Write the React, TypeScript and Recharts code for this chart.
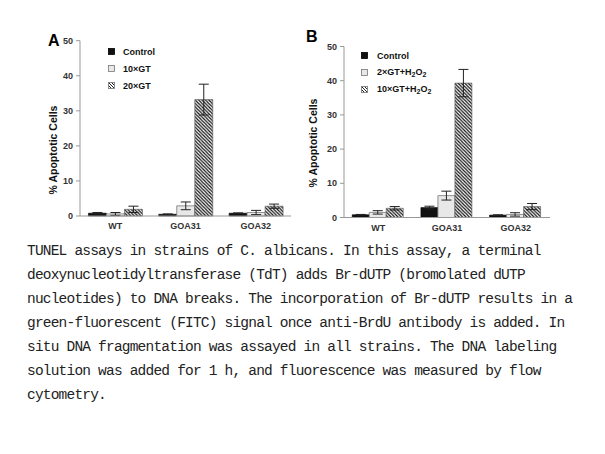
import React from 'react';
import { BarChart, Bar, XAxis, YAxis, ErrorBar, Legend } from 'recharts';

const categories = ['WT', 'GOA31', 'GOA32'];
const yTicks = [0, 10, 20, 30, 40, 50];

// panel A
const aControl = [0.8, 0.5, 0.8];
const aControlErr = [0.2, 0.1, 0.1];
const aGT10 = [0.6, 2.9, 1.0];
const aGT10Err = [0.4, 1.1, 0.6];
const aGT20 = [1.9, 33.2, 2.8];
const aGT20Err = [0.9, 4.4, 0.6];

// panel B
const bControl = [0.8, 2.9, 0.7];
const bControlErr = [0.1, 0.4, 0.1];
const bGT2 = [1.5, 6.4, 0.9];
const bGT2Err = [0.5, 1.3, 0.5];
const bGT10 = [2.7, 39.3, 3.2];
const bGT10Err = [0.5, 4.0, 0.9];

const caption = [
  'TUNEL assays in strains of C. albicans. In this assay, a terminal',
  'deoxynucleotidyltransferase (TdT) adds Br-dUTP (bromolated dUTP',
  'nucleotides) to DNA breaks. The incorporation of Br-dUTP results in a',
  'green-fluorescent (FITC) signal once anti-BrdU antibody is added. In',
  'situ DNA fragmentation was assayed in all strains. The DNA labeling',
  'solution was added for 1 h, and fluorescence was measured by flow',
  'cytometry.',
];

const dataA = categories.map((name, i) => ({
  name,
  c: aControl[i], cErr: aControlErr[i],
  g1: aGT10[i], g1Err: aGT10Err[i],
  g2: aGT20[i], g2Err: aGT20Err[i],
}));

const dataB = categories.map((name, i) => ({
  name,
  c: bControl[i], cErr: bControlErr[i],
  g1: bGT2[i], g1Err: bGT2Err[i],
  g2: bGT10[i], g2Err: bGT10Err[i],
}));

const font = '"Liberation Sans", Arial, sans-serif';
const tickStyle = { fontSize: 9, fontWeight: 700, fill: '#333', fontFamily: font };

const H2O2 = () => (
  <span>H<sub style={{ fontSize: 7, verticalAlign: -2 }}>2</sub>O<sub style={{ fontSize: 7, verticalAlign: -2 }}>2</sub></span>
);

function Swatch({ kind }: { kind: number }) {
  return (
    <svg width={7} height={7} style={{ display: 'block' }}>
      <defs>
        <pattern id={`lg${kind}`} patternUnits="userSpaceOnUse" width={3} height={3}>
          <rect width={3} height={3} fill="#fff" />
          <path d="M-1,-1 L4,4 M-1,2 L1,4 M2,-1 L4,1" stroke="#222" strokeWidth={1} />
        </pattern>
      </defs>
      <rect x={0.5} y={0.5} width={6} height={6}
        fill={kind === 0 ? '#111' : kind === 1 ? '#e8e8e8' : `url(#lg${kind})`}
        stroke={kind === 0 ? '#000' : '#777'} strokeWidth={0.8} />
    </svg>
  );
}

function makeLegend(labels: React.ReactNode[], gap: number) {
  return () => (
    <div style={{ fontFamily: font, fontSize: 9, fontWeight: 700, color: '#111' }}>
      {labels.map((l, i) => (
        <div key={i} style={{ display: 'flex', alignItems: 'center', height: 17 }}>
          <Swatch kind={i} />
          <span style={{ marginLeft: gap }}>{l}</span>
        </div>
      ))}
    </div>
  );
}

function Panel({ data, margin, legend, legendPos }: any) {
  return (
    <BarChart width={300} height={240} data={data} margin={margin} barGap={0} barCategoryGap="12%">
      <defs>
        <pattern id="hatch" patternUnits="userSpaceOnUse" width={3.4} height={3.4}>
          <rect width={3.4} height={3.4} fill="#fff" />
          <path d="M-1,-1 L4.4,4.4 M-1,2.4 L1,4.4 M2.4,-1 L4.4,1" stroke="#111" strokeWidth={1.2} />
        </pattern>
      </defs>
      <XAxis dataKey="name" tick={tickStyle} tickLine={false} tickSize={0} tickMargin={7}
        axisLine={{ stroke: '#999' }} height={20} interval={0} />
      <YAxis domain={[0, 50]} ticks={yTicks} tick={tickStyle} tickSize={4} tickMargin={3}
        tickLine={{ stroke: '#999' }} axisLine={{ stroke: '#999' }} width={30} interval={0} />
      <Legend layout="vertical" align="center" verticalAlign="middle"
        wrapperStyle={{ left: legendPos[0], top: legendPos[1], width: 'auto' }} content={legend} />
      <Bar dataKey="c" fill="#111" stroke="#000" strokeWidth={0.6} isAnimationActive={false}>
        <ErrorBar dataKey="cErr" width={5} stroke="#222" strokeWidth={1} />
      </Bar>
      <Bar dataKey="g1" fill="#e8e8e8" stroke="#777" strokeWidth={0.8} isAnimationActive={false}>
        <ErrorBar dataKey="g1Err" width={5} stroke="#222" strokeWidth={1} />
      </Bar>
      <Bar dataKey="g2" fill="url(#hatch)" stroke="#555" strokeWidth={0.6} isAnimationActive={false}>
        <ErrorBar dataKey="g2Err" width={5} stroke="#222" strokeWidth={1} />
      </Bar>
    </BarChart>
  );
}

const yLabel: React.CSSProperties = {
  position: 'absolute', fontFamily: font, fontSize: 10.5, fontWeight: 700, color: '#111',
  whiteSpace: 'nowrap', transform: 'translate(-50%, -50%) rotate(-90deg)',
};

export default function App() {
  return (
    <div style={{ position: 'absolute', left: 0, top: 0, width: 605, height: 454, background: '#fff', overflow: 'hidden' }}>
      <div style={{ position: 'absolute', left: 0, top: 0 }}>
        <Panel data={dataA} margin={{ top: 40.7, right: 9, bottom: 4, left: 50 }}
          legend={makeLegend(['Control', '10×GT', '20×GT'], 8)} legendPos={[108, 43]} />
      </div>
      <div style={{ position: 'absolute', left: 300, top: 0 }}>
        <Panel data={dataB} margin={{ top: 46.5, right: 50, bottom: 2.5, left: 14 }}
          legend={makeLegend(['Control', <span>2×GT+<H2O2 /></span>, <span>10×GT+<H2O2 /></span>], 9)} legendPos={[61, 47]} />
      </div>
      <div style={{ position: 'absolute', left: 48, top: 33, fontFamily: font, fontSize: 16, fontWeight: 700, lineHeight: '16px' }}>A</div>
      <div style={{ position: 'absolute', left: 306, top: 29, fontFamily: font, fontSize: 16, fontWeight: 700, lineHeight: '16px' }}>B</div>
      <div style={{ ...yLabel, left: 53, top: 150 }}>% Apoptotic Cells</div>
      <div style={{ ...yLabel, left: 313, top: 143 }}>% Apoptotic Cells</div>
      <div style={{ position: 'absolute', left: 27, top: 239, fontFamily: '"Liberation Mono", "DejaVu Sans Mono", monospace', fontSize: 14.5, letterSpacing: -0.8, lineHeight: '24px', color: '#222', whiteSpace: 'pre' }}>
        {caption.map((l, i) => <div key={i}>{l}</div>)}
      </div>
    </div>
  );
}
